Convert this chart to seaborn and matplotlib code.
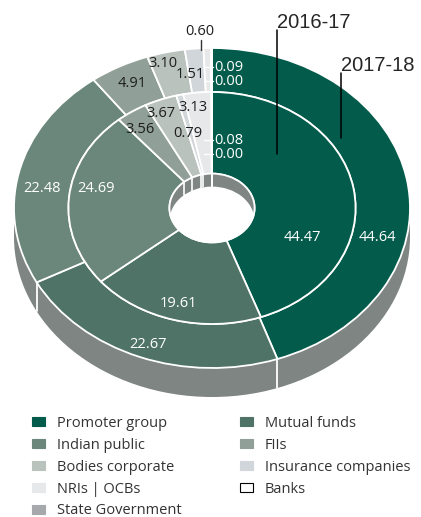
import numpy as np
import matplotlib
matplotlib.use("Agg")
import matplotlib.pyplot as plt
from matplotlib.patches import Ellipse, Rectangle, Patch
import seaborn as sns

# Shareholding pattern (%), slices in clockwise order from 12 o'clock
categories = ["Promoter group", "Mutual funds", "Indian public", "FIIs",
              "Bodies corporate", "Insurance companies", "NRIs | OCBs",
              "State Government", "Banks"]
share_2017_18 = [44.64, 22.67, 22.48, 4.91, 3.10, 1.51, 0.60, 0.09, 0.00]
share_2016_17 = [44.47, 19.61, 24.69, 3.56, 3.67, 0.79, 3.13, 0.08, 0.00]
legend_order = ["Promoter group", "Indian public", "Bodies corporate", "NRIs | OCBs",
                "State Government", "Mutual funds", "FIIs", "Insurance companies", "Banks"]

colors = {
    "Promoter group": "#035c4b",
    "Mutual funds": "#4f7367",
    "Indian public": "#6b877b",
    "FIIs": "#909f97",
    "Bodies corporate": "#b9c2bc",
    "Insurance companies": "#d1d6da",
    "NRIs | OCBs": "#e7e8e9",
    "State Government": "#a6a9ab",
    "Banks": "#ffffff",
}
slice_colors = [colors[c] for c in categories]
side_color = "#7e8583"

sns.set_style("white")
plt.rcParams["font.family"] = ["Open Sans", "DejaVu Sans"]

W, H = 421, 517
fig = plt.figure(figsize=(W / 100, H / 100), dpi=100)
ax = fig.add_axes([0, 0, 1, 1])

# pixel geometry of the reference: centre, horizontal / vertical radii
cx, cy, rx, ry = 212, 208, 198, 160
def px(x, y):
    return (x - cx) / rx, (cy - y) / ry

r_out, w_out = 1.0, 0.275
r_in, r_hole = 0.725, 0.215
depth, hole_depth = 29 / ry, 13 / ry

wp = dict(edgecolor="white", linewidth=1.3)
ax.pie(share_2017_18, radius=r_out, startangle=90, counterclock=False,
       colors=slice_colors, wedgeprops=dict(width=w_out, **wp))
ax.pie(share_2016_17, radius=r_in, startangle=90, counterclock=False,
       colors=slice_colors, wedgeprops=dict(width=r_in - r_hole, **wp))

ax.set_aspect("auto")
ax.set_xlim(-cx / rx, (W - cx) / rx)
ax.set_ylim(-(H - cy) / ry, cy / ry)
ax.axis("off")

# extruded side of the disc
ax.add_patch(Ellipse((0, -depth), 2 * r_out, 2 * r_out, color=side_color, zorder=0.5, lw=0))
ax.add_patch(Rectangle((-r_out, -depth), 2 * r_out, depth, color=side_color, zorder=0.5, lw=0))
bounds_out = 90 - 360 * np.cumsum([0] + share_2017_18) / 100
for a in np.radians(bounds_out):
    if np.sin(a) < -0.05:
        x0, y0 = r_out * np.cos(a), r_out * np.sin(a)
        ax.plot([x0, x0], [y0, y0 - depth], color="white", lw=1.3, zorder=0.6)

# hole with its far inner wall
wall = Ellipse((0, 0), 2 * r_hole, 2 * r_hole, facecolor=side_color, edgecolor="none", zorder=3)
ax.add_patch(wall)
floor = Ellipse((0, -hole_depth), 2 * r_hole, 2 * r_hole, color="white", zorder=3.2, lw=0)
ax.add_patch(floor)
floor.set_clip_path(wall)
bounds_in = 90 - 360 * np.cumsum([0] + share_2016_17) / 100
for a in np.radians(bounds_in):
    if np.sin(a) > 0.05:
        x0, y0 = r_hole * np.cos(a), r_hole * np.sin(a)
        ln, = ax.plot([x0, x0], [y0, y0 - hole_depth], color="white", lw=1.2, zorder=3.1)
        ln.set_clip_path(wall)
ax.add_patch(Ellipse((0, 0), 2 * r_hole, 2 * r_hole, facecolor="none",
                     edgecolor="white", lw=1.3, zorder=3.3))

# value labels: (index, pixel x, pixel y, colour)
dark, light = "#1e1e1e", "white"
outer_lbl = [(0, 377, 237, light), (1, 148, 344, light), (2, 42, 188, light),
             (3, 132, 83, dark), (4, 163, 63, dark), (5, 190, 74, dark), (6, 200, 31, dark)]
inner_lbl = [(0, 302, 237, light), (1, 178, 303, light), (2, 96, 188, light),
             (3, 140, 129, dark), (4, 161, 113, dark), (5, 188, 133, dark), (6, 193, 107, dark)]
fs = 10.5
for vals, lbls in ((share_2017_18, outer_lbl), (share_2016_17, inner_lbl)):
    for i, x, y, c in lbls:
        ax.text(*px(x, y), f"{vals[i]:.2f}", color=c, fontsize=fs,
                ha="center", va="center", zorder=5)

# tiny slices with leader lines
ax.plot(*zip(px(201, 40), px(201, 50)), color="#333333", lw=1, zorder=5)
for vals, idx, ys in ((share_2017_18, [7, 8], [67, 81]), (share_2016_17, [7, 8], [140, 154])):
    for i, y in zip(idx, ys):
        ax.plot(*zip(px(204, y), px(213, y)), color="white", lw=1, zorder=5)
        ax.text(*px(214, y), f"{vals[i]:.2f}", color="white", fontsize=fs,
                ha="left", va="center", zorder=5)

# year callouts
for label, tx, ty, y_end in (("2016-17", 277, 28, 154), ("2017-18", 341, 71, 138)):
    ax.text(*px(tx, ty), label, fontsize=14.5, family=["Liberation Sans"],
            ha="left", va="baseline", zorder=6)
    ax.plot(*zip(px(tx, ty + 2), px(tx, y_end)), color="black", lw=1.1, zorder=6)

handles = [Patch(facecolor=colors[c], edgecolor="black" if c == "Banks" else colors[c],
                 lw=0.8) for c in legend_order]
fig.legend(handles, legend_order, loc="upper left", bbox_to_anchor=(32 / W, 1 - 416 / H),
           ncol=2, frameon=False, fontsize=10.5, handlelength=0.9, handleheight=0.55,
           handletextpad=0.8, columnspacing=4.0, labelspacing=0.47, borderpad=0,
           borderaxespad=0, labelcolor="#333333")

fig.savefig("out.png", dpi=100)
